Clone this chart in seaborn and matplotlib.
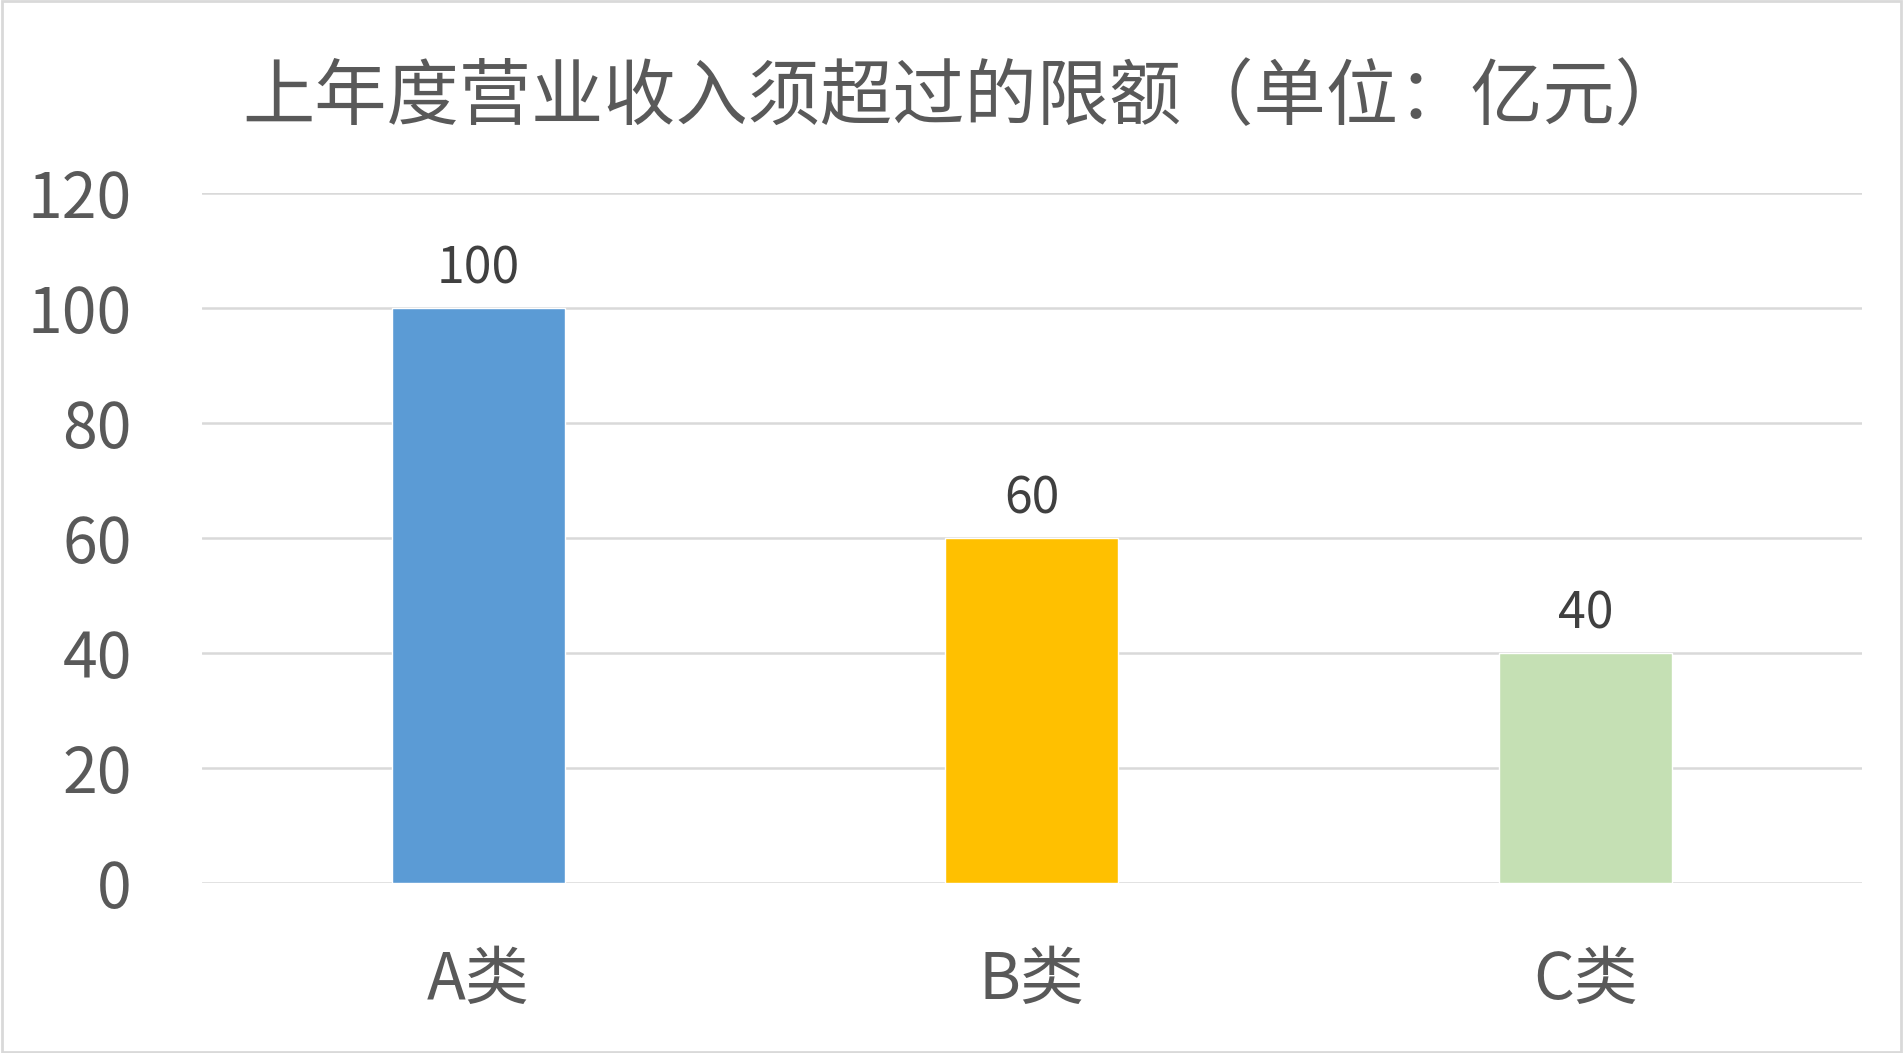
import matplotlib
matplotlib.use("Agg")
import matplotlib.pyplot as plt
import seaborn as sns
import pandas as pd

# chart data
CATEGORIES = ["A类", "B类", "C类"]
VALUES = [100, 60, 40]
BAR_COLORS = ["#5B9BD5", "#FFC000", "#C5E0B4"]
Y_TICKS = [0, 20, 40, 60, 80, 100, 120]
TITLE = "上年度营业收入须超过的限额（单位：亿元）"

TEXT_COLOR = "#595959"
GRID_COLOR = "#D9D9D9"

sns.set_theme(style="white")
plt.rcParams['font.family'] = ['Noto Sans CJK SC', 'DejaVu Sans']

df = pd.DataFrame({"类别": CATEGORIES, "金额": VALUES})

fig = plt.figure(figsize=(19.03, 10.53), dpi=100)
ax = fig.add_axes([0.1059, 0.161, 0.8726, 0.6557])

sns.barplot(data=df, x="类别", y="金额", hue="类别", palette=BAR_COLORS,
            width=0.3125, legend=False, ax=ax, saturation=1)

ax.set_ylim(0, 120)
ax.set_yticks(Y_TICKS)
ax.set_yticklabels([str(t) for t in Y_TICKS])
ax.set_xlim(-0.5, len(CATEGORIES) - 0.5)
ax.yaxis.grid(True, color=GRID_COLOR, linewidth=1.8)
ax.set_axisbelow(True)
for s in ax.spines.values():
    s.set_visible(False)

ax.tick_params(axis='y', length=0, pad=50, labelsize=45, labelcolor=TEXT_COLOR)
ax.tick_params(axis='x', length=0, pad=46, labelsize=46, labelcolor=TEXT_COLOR)
ax.set_xlabel("")
ax.set_ylabel("")

# value labels above each bar
for p in ax.patches:
    h = p.get_height()
    if h and h > 0:
        ax.annotate(f"{h:g}", (p.get_x() + p.get_width() / 2, h),
                    xytext=(0, 9), textcoords="offset points",
                    ha='center', va='bottom', fontsize=36, color="#404040")

fig.text(0.507, 0.906, TITLE, ha='center', va='center', fontsize=52,
         color=TEXT_COLOR)

# light border around the picture
border = plt.Rectangle((0.001, 0.001), 0.998, 0.998, transform=fig.transFigure,
                       fill=False, edgecolor=GRID_COLOR, linewidth=2)
fig.patches.append(border)

fig.savefig("out.png", dpi=100, facecolor="white")
